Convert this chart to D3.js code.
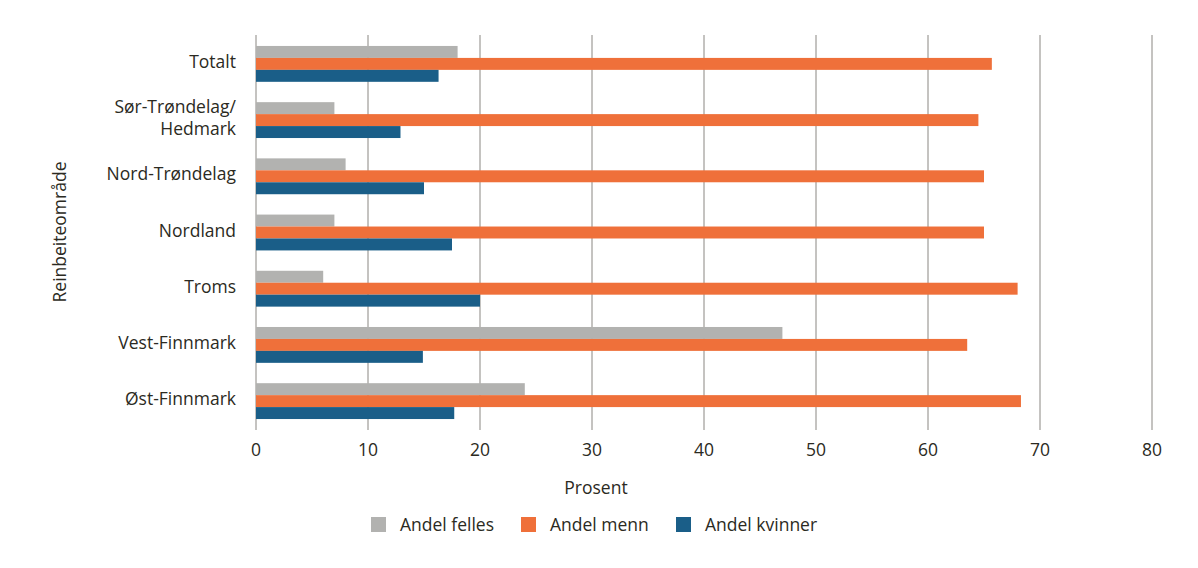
<!DOCTYPE html>
<html>
<head>
<meta charset="utf-8">
<script src="https://cdn.jsdelivr.net/npm/d3@7"></script>
<style>
  body { margin: 0; background: #fff; }
  text { font-family: "Open Sans", sans-serif; fill: #2b2a22; }
</style>
</head>
<body>
<svg id="chart" width="1198" height="568"></svg>
<script>
// ---- data ----
const regions = ["Totalt", "Sør-Trøndelag/\nHedmark", "Nord-Trøndelag", "Nordland", "Troms", "Vest-Finnmark", "Øst-Finnmark"];
const seriesNames = ["Andel felles", "Andel menn", "Andel kvinner"];
const andelFelles = [18, 7, 8, 7, 6, 47, 24];
const andelMenn = [65.7, 64.5, 65, 65, 68, 63.5, 68.3];
const andelKvinner = [16.3, 12.9, 15, 17.5, 20, 14.9, 17.7];
const xTicks = [0, 10, 20, 30, 40, 50, 60, 70, 80];

const colors = ["#b2b2b0", "#ef703a", "#1a5e88"];
const seriesValues = [andelFelles, andelMenn, andelKvinner];
const fontSize = "17.5px";

const svg = d3.select("#chart");
const margin = { top: 35, right: 46, bottom: 138, left: 256 };
const width = 1198, height = 568;
const innerWidth = width - margin.left - margin.right;
const innerHeight = height - margin.top - margin.bottom;

const innerChart = svg.append("g")
  .attr("transform", `translate(${margin.left},${margin.top})`);

const xScale = d3.scaleLinear().domain([0, 80]).range([0, innerWidth]);
const yScale = d3.scaleBand().domain(regions).range([0, innerHeight])
  .paddingInner(0.362).paddingOuter(0.195);
const subScale = d3.scaleBand().domain(seriesNames).range([0, yScale.bandwidth()]);

// gridlines
innerChart.selectAll(".grid")
  .data(xTicks)
  .join("line")
    .attr("class", "grid")
    .attr("x1", d => xScale(d))
    .attr("x2", d => xScale(d))
    .attr("y1", 0)
    .attr("y2", innerHeight)
    .attr("stroke", "#8a8782")
    .attr("stroke-width", 1);

// bars
const rows = regions.map((r, i) => ({ region: r, values: seriesNames.map((s, j) => ({ series: s, value: seriesValues[j][i], color: colors[j] })) }));

innerChart.selectAll(".group")
  .data(rows)
  .join("g")
    .attr("class", "group")
    .attr("transform", d => `translate(0,${yScale(d.region)})`)
  .selectAll("rect")
  .data(d => d.values)
  .join("rect")
    .attr("x", xScale(0))
    .attr("y", d => subScale(d.series))
    .attr("width", d => xScale(d.value) - xScale(0))
    .attr("height", subScale.bandwidth())
    .attr("fill", d => d.color);

// x tick labels
innerChart.selectAll(".xtick")
  .data(xTicks)
  .join("text")
    .attr("class", "xtick")
    .attr("x", d => xScale(d))
    .attr("y", innerHeight + 20)
    .attr("dy", "0.35em")
    .attr("text-anchor", "middle")
    .style("font-size", fontSize)
    .text(d => d);

// y category labels
innerChart.selectAll(".ylabel")
  .data(regions)
  .join("text")
    .attr("class", "ylabel")
    .attr("text-anchor", "end")
    .style("font-size", fontSize)
    .each(function(d) {
      const lines = d.split("\n");
      const cy = yScale(d) + yScale.bandwidth() / 2 - 2;
      const lh = 22.5;
      d3.select(this).selectAll("tspan")
        .data(lines)
        .join("tspan")
          .attr("x", -20)
          .attr("y", (l, i) => cy + (i - (lines.length - 1) / 2) * lh)
          .attr("dy", "0.35em")
          .text(l => l);
    });

// axis titles
svg.append("text")
  .attr("x", 596)
  .attr("y", 488)
  .attr("dy", "0.35em")
  .attr("text-anchor", "middle")
  .style("font-size", fontSize)
  .text("Prosent");

svg.append("text")
  .attr("transform", "translate(60,232) rotate(-90)")
  .attr("dy", "0.35em")
  .attr("text-anchor", "middle")
  .style("font-size", fontSize)
  .text("Reinbeiteområde");

// legend
const legendX = [371, 521, 676];
const legend = svg.selectAll(".legend")
  .data(seriesNames)
  .join("g")
    .attr("class", "legend")
    .attr("transform", (d, i) => `translate(${legendX[i]},517)`);

legend.append("rect")
  .attr("width", 15)
  .attr("height", 15)
  .attr("fill", (d, i) => colors[i]);

legend.append("text")
  .attr("x", 29)
  .attr("y", 7.5)
  .attr("dy", "0.35em")
  .style("font-size", fontSize)
  .text(d => d);
</script>
</body>
</html>
